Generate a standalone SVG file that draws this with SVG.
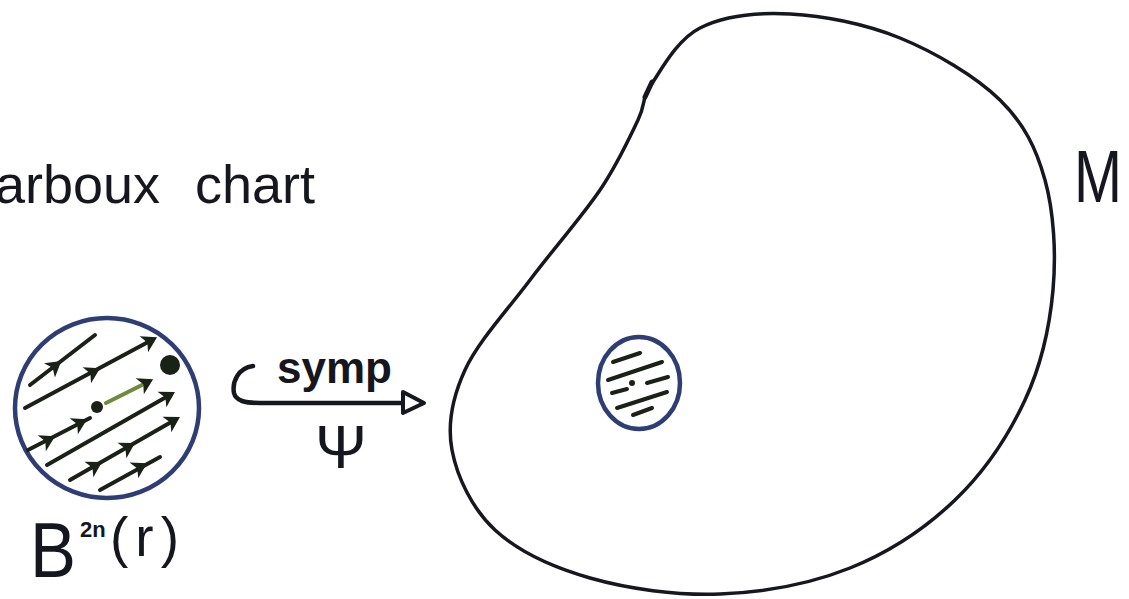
<svg xmlns="http://www.w3.org/2000/svg" width="1129" height="599" viewBox="0 0 1129 599">
  <defs>
    <style>
      .ink{fill:none;stroke:#17171f;stroke-linecap:round;stroke-linejoin:round}
      .blue{fill:none;stroke:#2e3d73;stroke-width:4.5}
      .hatch{fill:none;stroke:#1a2117;stroke-width:4;stroke-linecap:round}
      .ah{fill:#1a2117}
      .txt{font-family:"Liberation Sans",Arial,sans-serif;fill:#16161e}
    </style>
    <path id="ah" d="M8,0 L-7,-9 L-3,0 L-7,9 Z"/>
  </defs>
  <rect width="1129" height="599" fill="#ffffff"/>

  <g id="title">
    <text class="txt" x="160" y="203" font-size="54" text-anchor="end">Darboux</text>
    <text class="txt" x="195" y="203" font-size="54">chart</text>
  </g>

  <g id="ball">
    <ellipse class="blue" cx="107" cy="408" rx="92" ry="90"/>
    <g class="hatch">
      <line x1="30" y1="385" x2="95" y2="335"/>
      <line x1="25" y1="408" x2="150" y2="341"/>
      <line x1="28" y1="450" x2="90" y2="418"/>
      <line x1="106" y1="403" x2="142" y2="385" stroke="#6f8a3c"/>
      <line x1="47" y1="465" x2="168" y2="396"/>
      <line x1="70" y1="480" x2="173" y2="421"/>
      <line x1="100" y1="490" x2="160" y2="457"/>
    </g>
    <g class="ah">
      <use href="#ah" transform="translate(55,366) rotate(-37.6)"/>
      <use href="#ah" transform="translate(93,372) rotate(-28)"/>
      <use href="#ah" transform="translate(150,341) rotate(-28)"/>
      <use href="#ah" transform="translate(48,440) rotate(-27)"/>
      <use href="#ah" transform="translate(80,423) rotate(-27)"/>
      <use href="#ah" transform="translate(146,383) rotate(-27)"/>
      <use href="#ah" transform="translate(168,396) rotate(-29.6)"/>
      <use href="#ah" transform="translate(95,466) rotate(-29.7)"/>
      <use href="#ah" transform="translate(128,447) rotate(-29.7)"/>
      <use href="#ah" transform="translate(173,421) rotate(-29.7)"/>
      <use href="#ah" transform="translate(140,467) rotate(-28.8)"/>
      <circle cx="97" cy="407" r="6"/>
      <circle cx="170" cy="365" r="10"/>
    </g>
    <text class="txt" x="30" y="577" font-size="78" textLength="46" lengthAdjust="spacingAndGlyphs">B</text>
    <text class="txt" x="80" y="537" font-size="22" font-weight="bold">2n</text>
    <text class="txt" x="110" y="556" font-size="55" letter-spacing="7">(r)</text>
  </g>

  <g id="map">
    <path class="ink" stroke-width="4.5" d="M253,366 C238,368 232,382 234,393 C236,401 245,403 260,403 L404,403"/>
    <polygon points="403,392 424,403 403,413" fill="#ffffff" stroke="#17171f" stroke-width="4" stroke-linejoin="round"/>
    <text class="txt" x="277" y="383" font-size="44" font-weight="bold">symp</text>
    <text class="txt" x="341" y="468" font-size="62" text-anchor="middle">Ψ</text>
  </g>

  <g id="manifold">
    <path class="ink" stroke-width="3.5" d="M651,85 C661.3,69.7 676.8,39.8 700,28 C723.2,16.2 756.7,12.3 790,14 C823.3,15.7 865,23.7 900,38 C935,52.3 975.8,76.3 1000,100 C1024.2,123.7 1036.2,148.3 1045,180 C1053.8,211.7 1056.3,253.3 1053,290 C1049.7,326.7 1041.3,365 1025,400 C1008.7,435 984.2,472 955,500 C925.8,528 889.2,552.3 850,568 C810.8,583.7 763.3,592.3 720,594 C676.7,595.7 627.5,588.7 590,578 C552.5,567.3 518,551.3 495,530 C472,508.7 457,476.7 452,450 C447,423.3 452,398.3 465,370 C478,341.7 507.5,310 530,280 C552.5,250 582,216.7 600,190 C618,163.3 629.5,137.5 638,120 C646.5,102.5 640.7,100.3 651,85 Z"/>
    <path class="ink" stroke-width="5" d="M645,97 L652,82"/>
    <text class="txt" x="1074" y="202" font-size="74" textLength="48" lengthAdjust="spacingAndGlyphs">M</text>
  </g>

  <g id="image-ball">
    <ellipse class="blue" cx="639" cy="383" rx="41" ry="46" stroke-width="4"/>
    <g class="hatch">
      <line x1="613" y1="362" x2="640" y2="353"/>
      <line x1="608" y1="380" x2="662" y2="362"/>
      <line x1="647" y1="383" x2="668" y2="377"/>
      <line x1="612" y1="393" x2="627" y2="389"/>
      <line x1="617" y1="408" x2="667" y2="392"/>
      <line x1="633" y1="415" x2="652" y2="408"/>
    </g>
    <circle cx="632" cy="383" r="3" fill="#1a2117"/>
  </g>
</svg>
